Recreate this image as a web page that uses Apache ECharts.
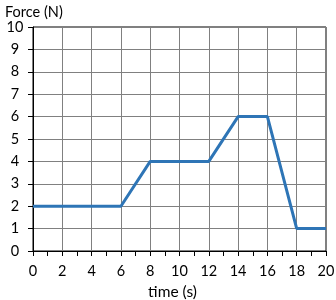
<!DOCTYPE html>
<html><head><meta charset="utf-8">
<script src="https://cdn.jsdelivr.net/npm/echarts@6/dist/echarts.min.js"></script>
<style>html,body{margin:0;padding:0;background:#fff}#c{width:336px;height:300px}</style>
</head><body><div id="c"></div>
<script>
const timeValues = [0, 6, 8, 12, 14, 16, 18, 20];
const forceValues = [2, 2, 4, 4, 6, 6, 1, 1];
const xTitle = 'time (s)';
const yTitle = 'Force (N)';
const font = 'Lato, "Open Sans", sans-serif';
const chart = echarts.init(document.getElementById('c'), null, {renderer:'canvas'});
chart.setOption({
  animation:false,
  grid:{left:33, right:10, top:27, bottom:49, show:true, borderColor:'#000', borderWidth:1,
    containLabel:false, outerBoundsMode:'none'},
  xAxis:{type:'value', min:0, max:20, interval:2,
    name:xTitle, nameLocation:'middle', nameGap:26,
    nameTextStyle:{color:'#000', fontSize:15.5, fontFamily:font, padding:[0,14,0,0]},
    axisLine:{show:true, onZero:false, lineStyle:{color:'#000', width:1}},
    axisTick:{show:true, length:5, lineStyle:{color:'#000'}},
    minorTick:{show:true, splitNumber:2, length:5, lineStyle:{color:'#000'}},
    axisLabel:{color:'#000', fontSize:14.5, fontFamily:font, margin:13},
    splitLine:{show:true, lineStyle:{color:'#808080', width:1}}
  },
  yAxis:{type:'value', min:0, max:10, interval:1,
    name:yTitle, nameLocation:'end', nameGap:7,
    nameTextStyle:{color:'#000', fontSize:14.5, fontFamily:font, align:'left', padding:[0,0,0,-28]},
    axisLine:{show:true, lineStyle:{color:'#000', width:1}},
    axisTick:{show:true, length:5, lineStyle:{color:'#000'}},
    axisLabel:{color:'#000', fontSize:14.5, fontFamily:font, margin:18, align:'center'},
    splitLine:{show:true, lineStyle:{color:'#808080', width:1}}
  },
  series:[{type:'line', data:timeValues.map((t,i)=>[t, forceValues[i]]),
    showSymbol:false, symbol:'none',
    lineStyle:{color:'#2E75B6', width:3}}]
});
</script></body></html>
